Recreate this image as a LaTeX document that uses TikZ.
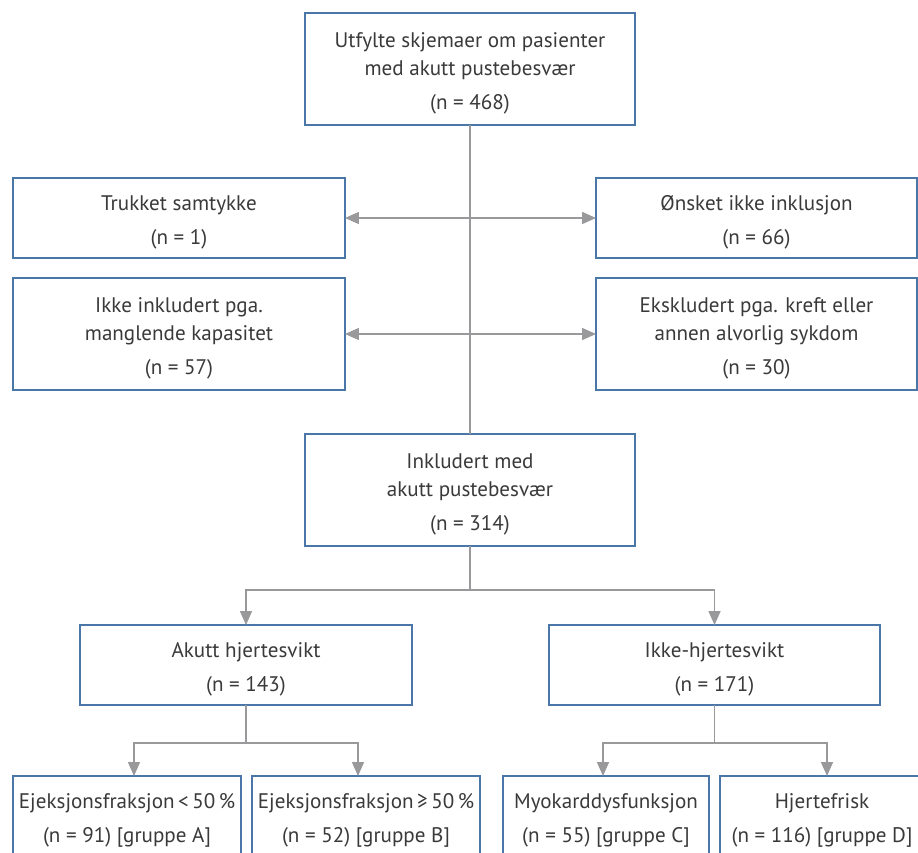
\documentclass[tikz,border=0pt]{standalone}
\usepackage{fontspec}
\setmainfont{PT Sans}
\usepackage{tikz}
\usetikzlibrary{positioning,arrows.meta,calc}
\definecolor{boxblue}{RGB}{74,118,168}
\definecolor{linegray}{RGB}{153,153,156}
\definecolor{textgray}{RGB}{58,58,58}
\newcommand{\topstrut}{\rule{0pt}{13.5pt}}
\begin{document}
\begin{tikzpicture}[x=0.02cm,y=-0.02cm,
  every node/.style={outer sep=0pt, align=center, text=textgray, font=\fontsize{12}{16}\selectfont},
  flowbox/.style={draw=boxblue, line width=1.1pt, fill=white, inner sep=2pt},
  line/.style={draw=linegray, line width=0.85pt},
  arr/.style={line, -{Triangle[length=2.8mm,width=2.4mm]}},
  darr/.style={line, {Triangle[length=2.8mm,width=2.4mm]}-{Triangle[length=2.8mm,width=2.4mm]}}]
\clip (0,0) rectangle (918,852);
\node[flowbox, minimum width=6.6cm, minimum height=2.24cm] (top) at (470,69) {\topstrut Utfylte skjemaer om pasienter\\med akutt pustebesvær\\[3pt](n = 468)};
\node[flowbox, minimum width=6.64cm, minimum height=1.6cm] (trukket) at (179,218) {\topstrut Trukket samtykke\\[3pt](n = 1)};
\node[flowbox, minimum width=6.42cm, minimum height=1.6cm] (onsket) at (756.5,218) {\topstrut Ønsket ikke inklusjon\\[3pt](n = 66)};
\node[flowbox, minimum width=6.64cm, minimum height=2.24cm] (ikkeinkl) at (179,334) {\topstrut Ikke inkludert pga.\\manglende kapasitet\\[3pt](n = 57)};
\node[flowbox, minimum width=6.42cm, minimum height=2.24cm] (ekskl) at (756.5,334) {\topstrut Ekskludert pga. kreft eller\\annen alvorlig sykdom\\[3pt](n = 30)};
\node[flowbox, minimum width=6.6cm, minimum height=2.24cm] (inkl) at (470,490) {\topstrut Inkludert med\\akutt pustebesvær\\[3pt](n = 314)};
\node[flowbox, minimum width=6.64cm, minimum height=1.6cm] (akutt) at (246,665) {\topstrut Akutt hjertesvikt\\[3pt](n = 143)};
\node[flowbox, minimum width=6.62cm, minimum height=1.6cm] (ikkehj) at (714.5,665) {\topstrut Ikke-hjertesvikt\\[3pt](n = 171)};
% nederste rad
\node[flowbox, minimum width=4.56cm, minimum height=1.6cm] (gruppeA) at (127,816) {\topstrut Ejeksjonsfraksjon\,<\,50\,\%\\[3pt](n = 91) [gruppe A]};
\node[flowbox, minimum width=4.56cm, minimum height=1.6cm] (gruppeB) at (366,816) {\topstrut Ejeksjonsfraksjon\,≥\,50\,\%\\[3pt](n = 52) [gruppe B]};
\node[flowbox, minimum width=4.12cm, minimum height=1.6cm] (gruppeC) at (606,816) {\topstrut Myokarddysfunksjon\\[3pt](n = 55) [gruppe C]};
\node[flowbox, minimum width=4.08cm, minimum height=1.6cm] (gruppeD) at (822,816) {\topstrut Hjertefrisk\\[3pt](n = 116) [gruppe D]};
% forbindelser
\draw[line] (top.south) -- (inkl.north);
\draw[darr] (trukket.east) -- (onsket.west);
\draw[darr] (ikkeinkl.east) -- (ekskl.west);
\draw[arr] (inkl.south) -- ++(0,44) -| (akutt.north);
\draw[arr] (inkl.south) -- ++(0,44) -| (ikkehj.north);
\draw[arr] (akutt.south) -- ++(0,38) -| ([xshift=0.14cm]gruppeA.north);
\draw[arr] (akutt.south) -- ++(0,38) -| ([xshift=-0.16cm]gruppeB.north);
\draw[arr] (ikkehj.south) -- ++(0,38) -| ([xshift=-0.06cm]gruppeC.north);
\draw[arr] (ikkehj.south) -- ++(0,38) -| ([xshift=0.1cm]gruppeD.north);
\end{tikzpicture}
\end{document}
